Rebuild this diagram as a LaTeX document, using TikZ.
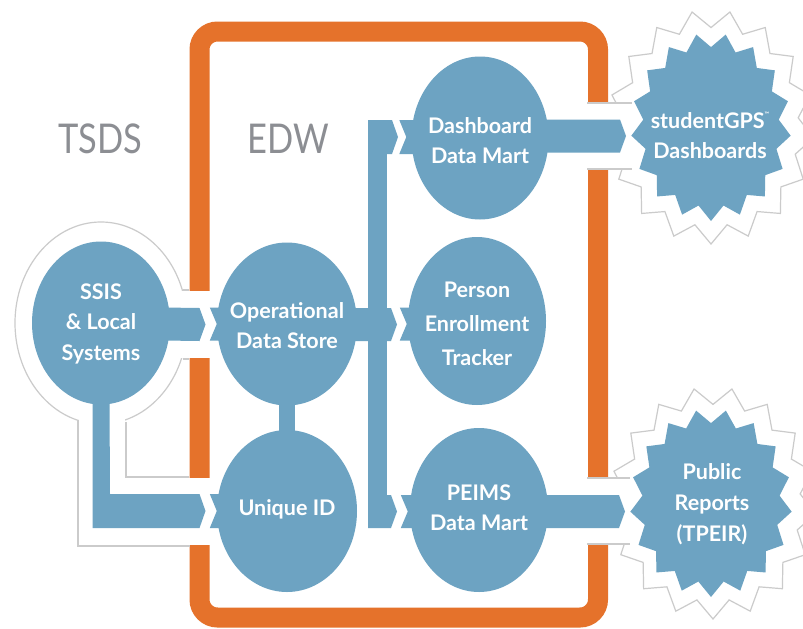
\documentclass[tikz,border=0pt]{standalone}
\usepackage{fontspec}
\setmainfont{Lato}
\usetikzlibrary{shapes.geometric,calc}
\definecolor{flowblue}{HTML}{6DA3C2}
\definecolor{frameorange}{HTML}{E5722B}
\definecolor{halogray}{HTML}{CBCBCB}
\definecolor{titlegray}{HTML}{8C8E93}
\tikzset{
  x=1pt,y=-1pt,
  blob/.style={shape=ellipse,fill=flowblue,inner sep=0pt,minimum width=140pt,minimum height=163pt},
  blobtext/.style={text=white,align=center,inner sep=0pt,font=\fontsize{21.5}{30}\selectfont\bfseries},
  title/.style={text=titlegray,inner sep=0pt,xscale=0.84,font=\fontsize{41}{41}\selectfont},
  flow/.style={fill=flowblue},
  halo/.style={draw=halogray,line width=1.2pt},
  cut/.style={fill=white},
}
% \burst{cx}{cy}{rx}{ry}{options}
\newcommand{\burst}[5]{%
  \path[#5] plot[samples at={0,...,33},variable=\k]
    ({#1+#3*(1-0.15*mod(\k,2))*cos(90+\k*10.5882)},{#2+#4*(1-0.15*mod(\k,2))*sin(90+\k*10.5882)}) -- cycle;}
% \chevron{from}{tip}{half width}: bar from a named point to a pointed tip named point
\newcommand{\chevron}[3]{%
  \fill[flow] ($(#1)+(0,-#3)$) -- ($(#2)+(-6,-#3)$) -- (#2) -- ($(#2)+(-6,#3)$) -- ($(#1)+(0,#3)$) -- cycle;}
% \notch{node west point}{half width}
\newcommand{\notch}[2]{%
  \fill[flow] (#1) -- ($(#1)+(-7,-#2)$) -- ($(#1)+(10,-#2)$) -- ($(#1)+(10,#2)$) -- ($(#1)+(-7,#2)$) -- cycle;}
\begin{document}
\begin{tikzpicture}
\useasboundingbox[fill=white] (0,0) rectangle (803,629);
% EDW frame
\draw[frameorange,line width=20pt,rounded corners=18pt] (199.5,31.5) rectangle (598,617.5);
% halos
\burst{711}{127}{103}{117}{halo,fill=white}
\burst{713}{503}{103}{116}{halo,fill=white}
\fill[halo,fill=white] (101,323) ellipse [x radius=86,y radius=101];
% openings in the frame
\fill[cut] (150,291) rectangle (216,358);
\fill[cut] (79,410) rectangle (125,546);
\fill[cut] (79,478) rectangle (216,545.4);
\fill[cut] (570,103.6) rectangle (660,168.4);
\fill[cut] (570,478.6) rectangle (660,543.4);
\draw[halo] (78,420) -- (78,546) -- (190,546);
\draw[halo] (126,422) -- (126,477) -- (189,477);
\draw[halo] (183,290) -- (189,290);
\draw[halo] (183,359) -- (189,359);
\draw[halo] (587,103) -- (632,103);
\draw[halo] (587,169) -- (632,169);
\draw[halo] (587,478) -- (630,478);
\draw[halo] (587,544) -- (630,544);
% bursts
\burst{711}{127}{80}{94}{fill=flowblue}
\burst{711}{503}{81}{94}{fill=flowblue}
% nodes
\node[blob,minimum width=138pt,minimum height=163pt,label={[blobtext,yshift=-0.5pt]center:{SSIS\\[0.5pt]\&~Local\\[0.5pt]Systems}}] (ssis) at (101,323) {};
\node[blob,label={[blobtext,yshift=-2pt]center:{Operational\\Data Store}}] (ods) at (287,324) {};
\node[blob,minimum height=162pt,label={[blobtext,yshift=2pt]center:{Unique ID}}] (uid) at (287,511) {};
\node[blob,minimum width=137pt,minimum height=163pt,label={[blobtext,yshift=-3pt]center:{Dashboard\\Data Mart}}] (dash) at (480,138) {};
\node[blob,minimum width=138pt,minimum height=168pt,label={[blobtext,yshift=-2.5pt]center:{Person\\[4pt]Enrollment\\[4pt]Tracker}}] (person) at (477,321) {};
\node[blob,minimum width=138pt,minimum height=164pt,label={[blobtext,yshift=2pt]center:{PEIMS\\Data Mart}}] (peims) at (479,510) {};
\node[blobtext] (gps) at (710,135) {studentGPS\raisebox{1.1ex}{\fontsize{6}{6}\selectfont™}\\Dashboards};
\node[blobtext] (tpeir) at (712,504) {Public\\[1pt]Reports\\[1pt](TPEIR)};
\node[title,anchor=base] (tsds) at (100.5,153) {TSDS};
\node[title,anchor=base] (edw) at (288,153) {EDW};
% named ends
\coordinate (busT) at (368,120);
\coordinate (tipOds) at (205.5,324.5);
\coordinate (tipUid) at (205.5,511);
\coordinate (tipDash) at (398,137);
\coordinate (tipPerson) at (397,324.5);
\coordinate (tipPeims) at (397,511.5);
\coordinate (tipGps) at (626,136);
\coordinate (tipTpeir) at (625,511.5);
% connectors
\chevron{$(ssis.east)+(-8,1)$}{tipOds}{16.5}
\notch{ods.west}{16.5}
\fill[flow] ($(ods.south)+(-8,-4)$) rectangle ($(uid.north)+(8,4)$);
\fill[flow] (ssis.south)+(-8.5,-5) -- ++(-8.5,0) -- (92.5,528) -- ($(tipUid)+(-6,17)$) -- (tipUid) -- ($(tipUid)+(-6,-17)$) -- (110,494) -- ($(ssis.south)+(8.5,-5)$) -- cycle;
\notch{uid.west}{17}
\fill[flow] (busT) rectangle (387,528);
\chevron{$(ods.east)+(-8,0.5)$}{tipPerson}{16.5}
\chevron{368,137}{tipDash}{17}
\chevron{368,511.5}{tipPeims}{16.5}
\notch{$(dash.west)+(-5,-1)$}{17}
\notch{$(person.west)+(-1,3)$}{16.5}
\notch{$(peims.west)+(-2,1.5)$}{16.5}
\chevron{$(dash.east)+(-8,-2)$}{tipGps}{16.5}
\chevron{$(peims.east)+(-8,1.5)$}{tipTpeir}{16.5}
\end{tikzpicture}
\end{document}
